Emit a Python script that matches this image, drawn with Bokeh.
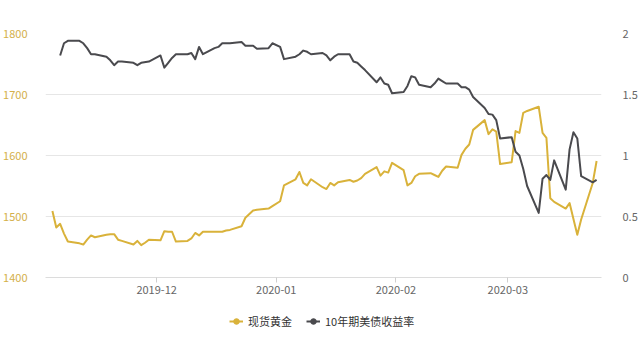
import pandas as pd
from bokeh.plotting import figure
from bokeh.layouts import column
from bokeh.models import (Range1d, LinearAxis, FixedTicker, DatetimeTickFormatter,
                          NumeralTickFormatter, Legend, LegendItem, ColumnDataSource)
from bokeh.embed import file_html
from bokeh.resources import INLINE

# Spot gold (USD/oz), daily closes
gold_dates = [
    "2019-11-04", "2019-11-05", "2019-11-06", "2019-11-07", "2019-11-08", "2019-11-11", "2019-11-12",
    "2019-11-13", "2019-11-14", "2019-11-15", "2019-11-18", "2019-11-19", "2019-11-20", "2019-11-21",
    "2019-11-22", "2019-11-25", "2019-11-26", "2019-11-27", "2019-11-28", "2019-11-29",
    "2019-12-02", "2019-12-03", "2019-12-04", "2019-12-05", "2019-12-06", "2019-12-09", "2019-12-10",
    "2019-12-11", "2019-12-12", "2019-12-13", "2019-12-16", "2019-12-17", "2019-12-18", "2019-12-19",
    "2019-12-20", "2019-12-23", "2019-12-24", "2019-12-26", "2019-12-27", "2019-12-30", "2019-12-31",
    "2020-01-02", "2020-01-03", "2020-01-06", "2020-01-07", "2020-01-08", "2020-01-09", "2020-01-10",
    "2020-01-13", "2020-01-14", "2020-01-15", "2020-01-16", "2020-01-17", "2020-01-20", "2020-01-21",
    "2020-01-22", "2020-01-23", "2020-01-24", "2020-01-27", "2020-01-28", "2020-01-29", "2020-01-30",
    "2020-01-31",
    "2020-02-03", "2020-02-04", "2020-02-05", "2020-02-06", "2020-02-07", "2020-02-10", "2020-02-11",
    "2020-02-12", "2020-02-13", "2020-02-14", "2020-02-17", "2020-02-18", "2020-02-19", "2020-02-20",
    "2020-02-21", "2020-02-24", "2020-02-25", "2020-02-26", "2020-02-27", "2020-02-28",
    "2020-03-02", "2020-03-03", "2020-03-04", "2020-03-05", "2020-03-06", "2020-03-09", "2020-03-10",
    "2020-03-11", "2020-03-12", "2020-03-13", "2020-03-16", "2020-03-17", "2020-03-18", "2020-03-19",
    "2020-03-20", "2020-03-23", "2020-03-24",
]
gold_prices = [
    1509, 1482, 1488, 1472, 1459, 1456, 1454, 1462, 1469, 1466, 1470, 1471, 1471, 1462,
    1460, 1454, 1460, 1453, 1457, 1462,
    1461, 1476, 1475, 1475, 1459, 1460, 1464, 1473, 1469, 1475, 1475, 1475, 1475, 1477,
    1478, 1484, 1498, 1510, 1511, 1513, 1517,
    1525, 1551, 1561, 1573, 1555, 1551, 1561, 1548, 1545, 1555, 1551, 1556, 1560, 1557,
    1559, 1563, 1570, 1581, 1567, 1574, 1572, 1588,
    1576, 1551, 1555, 1566, 1570, 1571, 1568, 1565, 1575, 1582, 1580, 1601, 1611, 1618,
    1642, 1658, 1635, 1643, 1639, 1586,
    1589, 1640, 1637, 1670, 1673, 1680, 1637, 1629, 1530, 1524, 1513, 1522, 1496, 1470,
    1495, 1555, 1591,
]

# US 10-year Treasury yield (%)
yield_dates = [
    "2019-11-06", "2019-11-07", "2019-11-08", "2019-11-11", "2019-11-12", "2019-11-13", "2019-11-14",
    "2019-11-15", "2019-11-18", "2019-11-19", "2019-11-20", "2019-11-21", "2019-11-22", "2019-11-25",
    "2019-11-26", "2019-11-27", "2019-11-29",
    "2019-12-02", "2019-12-03", "2019-12-04", "2019-12-05", "2019-12-06", "2019-12-09", "2019-12-10",
    "2019-12-11", "2019-12-12", "2019-12-13", "2019-12-16", "2019-12-17", "2019-12-18", "2019-12-19",
    "2019-12-20", "2019-12-23", "2019-12-24", "2019-12-26", "2019-12-27", "2019-12-30", "2019-12-31",
    "2020-01-02", "2020-01-03", "2020-01-06", "2020-01-07", "2020-01-08", "2020-01-09", "2020-01-10",
    "2020-01-13", "2020-01-14", "2020-01-15", "2020-01-16", "2020-01-17", "2020-01-20", "2020-01-21",
    "2020-01-22", "2020-01-23", "2020-01-24", "2020-01-27", "2020-01-28", "2020-01-29", "2020-01-30",
    "2020-01-31",
    "2020-02-03", "2020-02-04", "2020-02-05", "2020-02-06", "2020-02-07", "2020-02-10", "2020-02-11",
    "2020-02-12", "2020-02-13", "2020-02-14", "2020-02-17", "2020-02-18", "2020-02-19", "2020-02-20",
    "2020-02-21", "2020-02-24", "2020-02-25", "2020-02-26", "2020-02-27", "2020-02-28",
    "2020-03-02", "2020-03-03", "2020-03-04", "2020-03-05", "2020-03-06", "2020-03-09", "2020-03-10",
    "2020-03-11", "2020-03-12", "2020-03-13", "2020-03-16", "2020-03-17", "2020-03-18", "2020-03-19",
    "2020-03-20", "2020-03-23", "2020-03-24",
]
yield_rates = [
    1.82, 1.92, 1.94, 1.94, 1.92, 1.88, 1.83, 1.83, 1.81, 1.78, 1.74, 1.77, 1.77, 1.76,
    1.74, 1.76, 1.77,
    1.82, 1.72, 1.76, 1.80, 1.83, 1.83, 1.84, 1.79, 1.89, 1.83, 1.88, 1.89, 1.92, 1.92,
    1.92, 1.93, 1.90, 1.90, 1.875, 1.88, 1.92,
    1.89, 1.79, 1.81, 1.83, 1.86, 1.85, 1.83, 1.84, 1.82, 1.78, 1.81, 1.83, 1.83, 1.77,
    1.76, 1.73, 1.70, 1.60, 1.64, 1.59, 1.58, 1.51,
    1.52, 1.57, 1.65, 1.64, 1.58, 1.56, 1.59, 1.63, 1.61, 1.59, 1.59, 1.56, 1.56, 1.54,
    1.48, 1.39, 1.34, 1.335, 1.29, 1.14,
    1.15, 1.03, 1.00, 0.89, 0.75, 0.53, 0.81, 0.84, 0.80, 0.96, 0.72, 1.05, 1.19, 1.14,
    0.83, 0.78, 0.80,
]

month_ticks = ["2019-12-01", "2020-01-01", "2020-02-01", "2020-03-01"]
price_ticks = [1400, 1500, 1600, 1700, 1800]
rate_ticks = [0, 0.5, 1, 1.5, 2]
series_names = ["现货黄金", "10年期美债收益率"]

GOLD = "#d9b23a"
DARK = "#4a4a4e"
FONT = "Noto Sans CJK SC"


def to_ms(s):
    return pd.Timestamp(s).value / 1e6


gold_src = ColumnDataSource(dict(x=pd.to_datetime(gold_dates), y=gold_prices))
rate_src = ColumnDataSource(dict(x=pd.to_datetime(yield_dates), y=yield_rates))

# ---- main chart -------------------------------------------------------------
p = figure(
    width=640, height=303,
    x_axis_type="datetime",
    x_range=Range1d(to_ms("2019-11-02 05:00"), to_ms("2020-03-25 06:30")),
    y_range=Range1d(1400, 1800),
    min_border_left=43, min_border_right=32, min_border_top=33, min_border_bottom=26,
    output_backend="svg", toolbar_location=None,
)
p.outline_line_color = None
p.background_fill_color = "white"
p.border_fill_color = "white"

p.extra_y_ranges = {"rate": Range1d(0, 2)}

p.xgrid.visible = False
p.ygrid.grid_line_color = "#e6e6e6"
p.ygrid.grid_line_width = 1

# bottom time axis
xa = p.xaxis[0]
xa.ticker = FixedTicker(ticks=[to_ms(d) for d in month_ticks])
xa.formatter = DatetimeTickFormatter(
    days="%Y-%m", months="%Y-%m", years="%Y-%m", hours="%Y-%m", hourmin="%Y-%m",
    minutes="%Y-%m", minsec="%Y-%m", seconds="%Y-%m", milliseconds="%Y-%m", microseconds="%Y-%m",
)
xa.axis_line_color = "#dcdcdc"
xa.major_tick_line_color = "#cfcfcf"
xa.major_tick_out = 5
xa.major_tick_in = 0
xa.minor_tick_line_color = None
xa.major_label_standoff = 3
xa.major_label_text_font = FONT
xa.major_label_text_font_size = "11px"
xa.major_label_text_color = "#666666"

# left price axis
ya = p.yaxis[0]
ya.ticker = FixedTicker(ticks=price_ticks)
ya.axis_line_color = None
ya.major_tick_line_color = None
ya.minor_tick_line_color = None
ya.major_label_standoff = 12
ya.major_label_text_font = FONT
ya.major_label_text_font_size = "11px"
ya.major_label_text_color = "#d4b04a"

# right yield axis
ra = LinearAxis(y_range_name="rate", ticker=FixedTicker(ticks=rate_ticks),
                formatter=NumeralTickFormatter(format="0.[0]"))
ra.axis_line_color = None
ra.major_tick_line_color = None
ra.minor_tick_line_color = None
ra.major_label_standoff = 15
ra.major_label_text_font = FONT
ra.major_label_text_font_size = "11px"
ra.major_label_text_color = "#666666"
p.add_layout(ra, "right")

p.line("x", "y", source=gold_src, line_color=GOLD, line_width=2, line_join="round")
p.line("x", "y", source=rate_src, line_color=DARK, line_width=2, line_join="round",
       y_range_name="rate")

# ---- legend strip -----------------------------------------------------------
# The legend keys reuse the two series; their renderers here are muted to zero
# alpha so only the legend symbols (line + dot) are visible.
lf = figure(width=640, height=47, min_border=0, output_backend="svg",
            toolbar_location=None, x_axis_location=None, y_axis_location=None)
lf.outline_line_color = None
lf.grid.visible = False
lf.background_fill_color = "white"
lf.border_fill_color = "white"

lg_gold_line = lf.line("x", "y", source=gold_src, line_color=GOLD, line_width=2, muted_alpha=0)
lg_gold_dot = lf.scatter("x", "y", source=gold_src, fill_color=GOLD, line_color=GOLD, muted_alpha=0)
lg_rate_line = lf.line("x", "y", source=rate_src, line_color=DARK, line_width=2, muted_alpha=0)
lg_rate_dot = lf.scatter("x", "y", source=rate_src, fill_color=DARK, line_color=DARK, muted_alpha=0)
for r in (lg_gold_line, lg_gold_dot, lg_rate_line, lg_rate_dot):
    r.muted = True

legend = Legend(
    items=[LegendItem(label=series_names[0], renderers=[lg_gold_line, lg_gold_dot]),
           LegendItem(label=series_names[1], renderers=[lg_rate_line, lg_rate_dot])],
    orientation="horizontal", location=(184, 21),
    border_line_color=None, background_fill_alpha=0,
    label_text_font=FONT, label_text_font_size="11px", label_text_color="#333333",
    glyph_width=14, glyph_height=14, label_standoff=5, spacing=14,
    padding=4, margin=0,
)
lf.add_layout(legend, "center")

layout = column(p, lf, spacing=0)
open("out.html", "w").write(file_html(layout, INLINE))
